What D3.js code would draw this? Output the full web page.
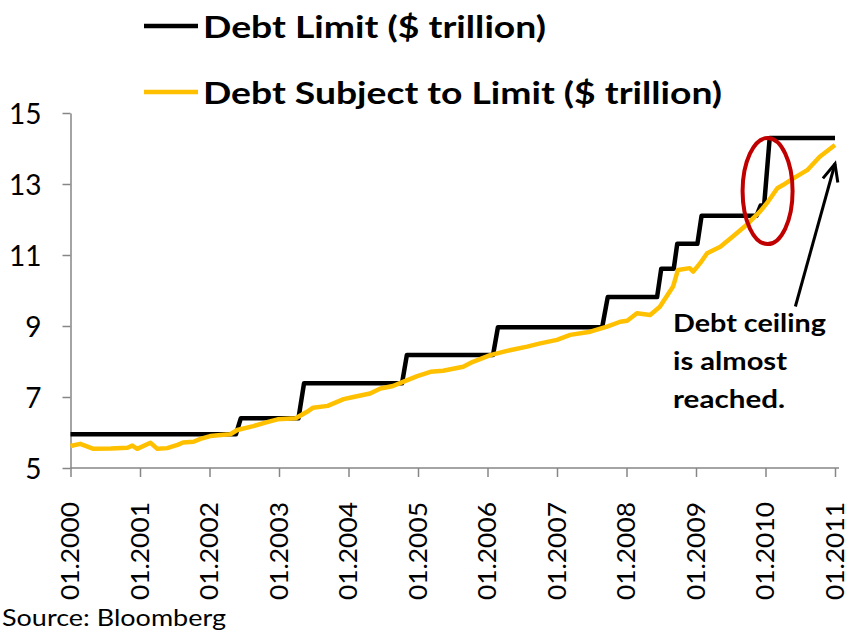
<!DOCTYPE html>
<html>
<head>
<meta charset="utf-8">
<script src="https://cdn.jsdelivr.net/npm/d3@7"></script>
<style>
  html, body { margin: 0; padding: 0; background: #fff; }
  svg { display: block; }
  text { font-family: Lato, "Open Sans", "DejaVu Sans", sans-serif; fill: #000; }
</style>
</head>
<body>
<svg id="chart" width="849" height="633"></svg>
<script>
// ---------------- data ----------------
const seriesNames = ["Debt Limit ($ trillion)", "Debt Subject to Limit ($ trillion)"];

const tickYears = [2000, 2001, 2002, 2003, 2004, 2005, 2006, 2007, 2008, 2009, 2010, 2011];
const tickLabels = ["01.2000", "01.2001", "01.2002", "01.2003", "01.2004", "01.2005",
                    "01.2006", "01.2007", "01.2008", "01.2009", "01.2010", "01.2011"];
const yTicks = [5, 7, 9, 11, 13, 15];

// Debt limit (step series), decimal years
const limitDates = [2000.00, 2002.38, 2002.45, 2003.28, 2003.36, 2004.77, 2004.84,
                    2006.08, 2006.15, 2007.65, 2007.73, 2008.44, 2008.50, 2008.68, 2008.73,
                    2009.02, 2009.08, 2009.87, 2009.93, 2009.98, 2010.06, 2011.00];
const limitValues = [5.95, 5.95, 6.40, 6.40, 7.384, 7.384, 8.184,
                     8.184, 8.965, 8.965, 9.815, 9.815, 10.615, 10.615, 11.315,
                     11.315, 12.104, 12.104, 12.394, 12.394, 14.294, 14.294];

// Debt subject to limit
const debtDates = [2000.00, 2000.14, 2000.33, 2000.58, 2000.82, 2000.89, 2000.96, 2001.15,
                   2001.25, 2001.39, 2001.54, 2001.62, 2001.77, 2001.87, 2002.01, 2002.16,
                   2002.30, 2002.40, 2002.63, 2002.83, 2002.98, 2003.24, 2003.41, 2003.49,
                   2003.70, 2003.93, 2004.07, 2004.31, 2004.46, 2004.64, 2004.74, 2004.99,
                   2005.18, 2005.36, 2005.65, 2005.79, 2006.04, 2006.28, 2006.57, 2006.76,
                   2007.00, 2007.19, 2007.48, 2007.72, 2007.91, 2008.01, 2008.15, 2008.34,
                   2008.48, 2008.67, 2008.74, 2008.91, 2008.96, 2009.06, 2009.16, 2009.35,
                   2009.53, 2009.73, 2009.82, 2009.92, 2010.02, 2010.17, 2010.25, 2010.40,
                   2010.60, 2010.78, 2011.00];
const debtValues = [5.62, 5.68, 5.54, 5.55, 5.57, 5.63, 5.54, 5.71,
                    5.54, 5.56, 5.65, 5.72, 5.74, 5.82, 5.90, 5.93,
                    5.95, 6.07, 6.18, 6.29, 6.37, 6.40, 6.59, 6.70,
                    6.75, 6.94, 7.00, 7.10, 7.24, 7.31, 7.39, 7.59,
                    7.71, 7.74, 7.85, 7.99, 8.18, 8.30, 8.42, 8.51,
                    8.61, 8.75, 8.84, 8.98, 9.12, 9.15, 9.36, 9.31,
                    9.54, 10.11, 10.58, 10.63, 10.53, 10.77, 11.05, 11.23,
                    11.52, 11.85, 12.03, 12.22, 12.46, 12.88, 12.97, 13.16,
                    13.39, 13.77, 14.10];

const annotationLines = ["Debt ceiling", "is almost", "reached."];
const sourceText = "Source: Bloomberg";

// ---------------- chart ----------------
const svg = d3.select("#chart");
const x = d3.scaleLinear().domain([2000, 2011]).range([70.5, 835]);
const y = d3.scaleLinear().domain([5, 15]).range([468, 113]);
const axisColor = "#868686";

// X axis
const xAxis = svg.append("g")
  .attr("transform", "translate(0,468)")
  .call(d3.axisBottom(x).tickValues(tickYears).tickSize(9).tickSizeOuter(0)
        .tickFormat((d, i) => tickLabels[i]));
xAxis.select(".domain").attr("stroke", axisColor).attr("stroke-width", 1.5)
  .attr("d", `M${x(2000)},0H${x(2011) + 4}`);
xAxis.selectAll(".tick line").attr("stroke", axisColor).attr("stroke-width", 1.5);
xAxis.selectAll(".tick text")
  .attr("x", 0).attr("y", 0).attr("dy", 0)
  .attr("transform", "translate(8,34) rotate(-90)")
  .attr("text-anchor", "end")
  .attr("font-size", 25)
  .attr("textLength", 98)
  .attr("lengthAdjust", "spacingAndGlyphs")
  .style("font-family", "Lato, 'Open Sans', sans-serif")
  .attr("fill", "#000");

// Y axis
const yAxis = svg.append("g")
  .attr("transform", "translate(70.5,0)")
  .call(d3.axisLeft(y).tickValues(yTicks).tickSize(8).tickSizeOuter(0));
yAxis.select(".domain").attr("stroke", axisColor).attr("stroke-width", 1.5);
yAxis.selectAll(".tick line").attr("stroke", axisColor).attr("stroke-width", 1.5);
yAxis.selectAll(".tick text")
  .attr("x", -29).attr("dy", "0.36em")
  .attr("font-size", 28)
  .style("font-family", "Lato, 'Open Sans', sans-serif")
  .attr("fill", "#000");

// Lines
const line = d3.line().x(d => x(d[0])).y(d => y(d[1]));
const limitData = limitDates.map((d, i) => [d, limitValues[i]]);
const debtData = debtDates.map((d, i) => [d, debtValues[i]]);

svg.append("path").datum(limitData)
  .attr("d", line).attr("fill", "none").attr("stroke", "#000")
  .attr("stroke-width", 4.5).attr("stroke-linejoin", "round");
svg.append("path").datum(debtData)
  .attr("d", line).attr("fill", "none").attr("stroke", "#FFC000")
  .attr("stroke-width", 4.5).attr("stroke-linejoin", "round");

// Legend
const legendColors = ["#000", "#FFC000"];
const legendY = [26, 92];
const legendLen = [343, 519];
seriesNames.forEach((name, i) => {
  svg.append("line").attr("x1", 144).attr("x2", 198)
    .attr("y1", legendY[i]).attr("y2", legendY[i])
    .attr("stroke", legendColors[i]).attr("stroke-width", 4.5);
  svg.append("text").attr("x", 203).attr("y", legendY[i] + 12)
    .attr("font-size", 31).attr("font-weight", "bold")
    .attr("textLength", legendLen[i]).attr("lengthAdjust", "spacingAndGlyphs")
    .text(name);
});

// Red ellipse highlighting the jump
svg.append("ellipse")
  .attr("cx", x(2010.03)).attr("cy", y(12.8))
  .attr("rx", 25).attr("ry", 53)
  .attr("fill", "none").attr("stroke", "#C00000").attr("stroke-width", 4);

// Arrow
const ax0 = x(2010.43), ay0 = y(9.55), ax1 = x(2011.0), ay1 = y(13.57);
svg.append("line").attr("x1", ax0).attr("y1", ay0).attr("x2", ax1).attr("y2", ay1)
  .attr("stroke", "#000").attr("stroke-width", 3);
const ang = Math.atan2(ay1 - ay0, ax1 - ax0);
const headLen = 19, spread = 0.42;
const hp = [ang + Math.PI - spread, ang + Math.PI + spread].map(a => [ax1 + headLen * Math.cos(a), ay1 + headLen * Math.sin(a)]);
svg.append("path")
  .attr("d", `M${hp[0][0]},${hp[0][1]}L${ax1},${ay1}L${hp[1][0]},${hp[1][1]}`)
  .attr("fill", "none").attr("stroke", "#000").attr("stroke-width", 3)
  .attr("stroke-linejoin", "miter");

// Annotation text
const annLen = [153, 114, 112];
annotationLines.forEach((t, i) => {
  svg.append("text").attr("x", 673).attr("y", 332 + i * 38)
    .attr("font-size", 24).attr("font-weight", "bold")
    .attr("textLength", annLen[i]).attr("lengthAdjust", "spacingAndGlyphs")
    .text(t);
});

// Source
svg.append("text").attr("x", 2).attr("y", 626)
  .attr("font-size", 24)
  .attr("textLength", 224).attr("lengthAdjust", "spacingAndGlyphs")
  .text(sourceText);
</script>
</body>
</html>
